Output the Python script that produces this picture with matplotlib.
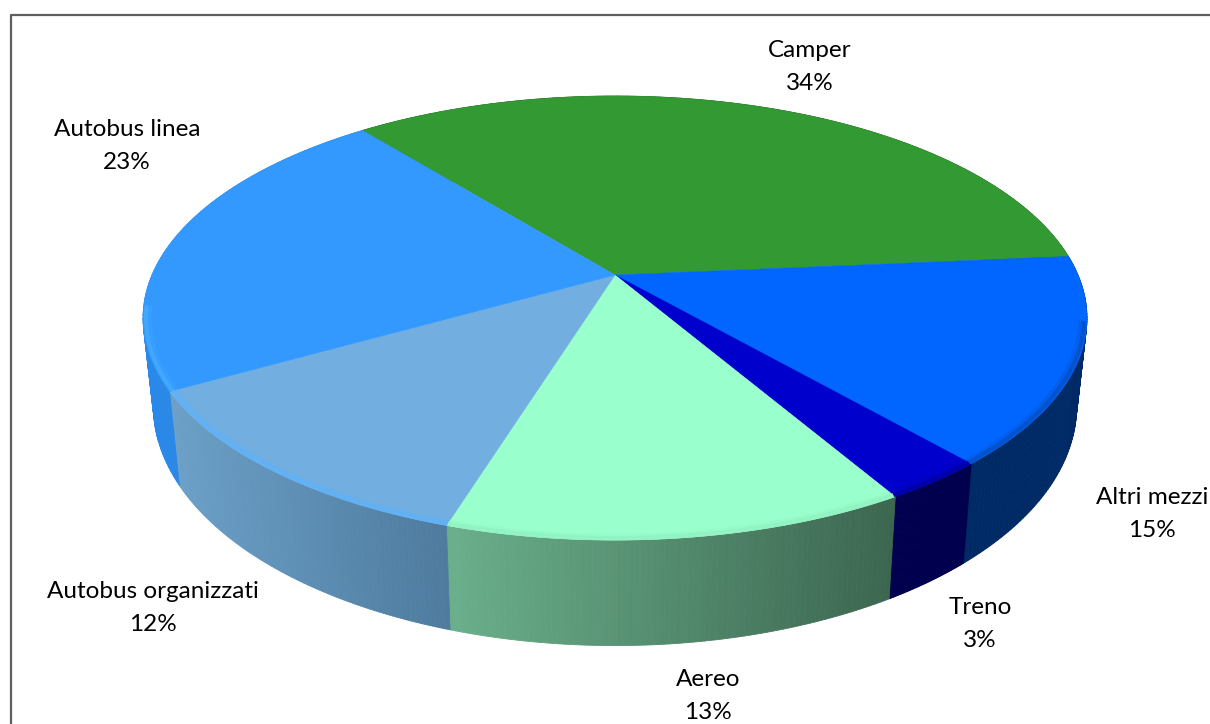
import matplotlib
matplotlib.use("Agg")
import matplotlib.pyplot as plt
import numpy as np

plt.rcParams['font.family'] = ['Lato', 'DejaVu Sans']

# Data
labels = ["Camper", "Altri mezzi", "Treno", "Aereo", "Autobus organizzati", "Autobus linea"]
percents = [34, 15, 3, 13, 12, 23]  # as printed on the labels
shares = [34.4, 15.0, 3.0, 13.2, 12.0, 22.4]  # wedge sizes as measured on the picture

# Colours, same order as the data
top_colors = ["#339933", "#0066FF", "#0000CC", "#99FFCC", "#72AFE0", "#3399FF"]
wall_start = ["#1F5C1F", "#002A66", "#00004F", "#6BB08C", "#6CA0C8", "#2A88E8"]
wall_end = ["#1F5C1F", "#002A66", "#00004F", "#3C6650", "#4E7B9E", "#2A84E0"]
rim_colors = ["#2C8A2C", "#0050C8", "#0000A8", "#92F2C3", "#5FB2F8", "#42AAFF"]

# Label centres in pixels
label_x = [810, 1152, 980, 708, 153, 127]
label_y = [66, 513, 623, 695, 607, 145]

# Perspective of the pie
center_x, center_y = 615, 275
radius_x, radius_y = 463, 213.7
persp = 0.194
depth = 85
shrink = 0.978
start_angle = 128.9


def project(theta, r=1.0, low=False):
    # theta in degrees, gives pixel coordinates on the top or bottom disc
    t = np.radians(theta)
    u = r * np.cos(t)
    v = r * np.sin(t)
    w = 1 + persp * v
    x = radius_x * u / w
    y = center_y - radius_y * v / w
    if low:
        x = x * shrink
        y = y + depth / w
    return center_x + x, y


fig = plt.figure(figsize=(12.10, 7.24), dpi=100)
ax = fig.add_axes([0, 0, 1, 1])
ax.set_xlim(0, 1210)
ax.set_ylim(724, 0)
ax.axis('off')

# Frame
ax.plot([10.5, 10.5, 1210], [724, 14.5, 14.5], color="#5F5F5F", lw=1.6, zorder=1)

angles = start_angle - np.cumsum([0] + shares) * 3.6

# Side walls, split in narrow strips for the shading
for i in range(len(shares)):
    th = np.linspace(angles[i], angles[i + 1], 80)
    c0 = np.array(matplotlib.colors.to_rgb(wall_start[i]))
    c1 = np.array(matplotlib.colors.to_rgb(wall_end[i]))
    # left to right shading
    x_top, y_top = project(th)
    x_low, y_low = project(th, low=True)
    s = (x_top - x_top.min()) / (x_top.max() - x_top.min())
    for j in range(len(th) - 1):
        col = c0 + (c1 - c0) * s[j]
        ax.fill([x_top[j], x_top[j + 1], x_low[j + 1], x_low[j]],
                [y_top[j], y_top[j + 1], y_low[j + 1], y_low[j]],
                color=col, lw=0.6, zorder=2)

# Top faces
for i in range(len(shares)):
    th = np.linspace(angles[i], angles[i + 1], 200)
    x_top, y_top = project(th)
    ax.fill(np.r_[center_x, x_top], np.r_[center_y, y_top],
            facecolor=top_colors[i], edgecolor=top_colors[i], lw=0.4, zorder=3)

# Bevel along the front rim
for i in range(1, len(shares)):
    a0, a1 = angles[i], angles[i + 1]
    if i == 1:
        a0 = -12  # the upper right part has no visible bevel
    if i == 5:
        a1 = -172
    th = np.linspace(a0, a1, 120)
    x_rim, y_rim = project(th, r=0.994)
    ax.plot(x_rim, y_rim, color=rim_colors[i], lw=3.0, alpha=0.9,
            solid_capstyle='butt', zorder=4)
    x_rim, y_rim = project(th, r=0.986)
    ax.plot(x_rim, y_rim, color=rim_colors[i], lw=2.5, alpha=0.3,
            solid_capstyle='butt', zorder=4)

# Labels
for i in range(len(labels)):
    ax.text(label_x[i], label_y[i] + 1, "%s\n%d%%" % (labels[i], percents[i]),
            ha='center', va='center', fontsize=17.5, color="black",
            linespacing=1.65, zorder=5)

fig.savefig("out.png", dpi=100)
